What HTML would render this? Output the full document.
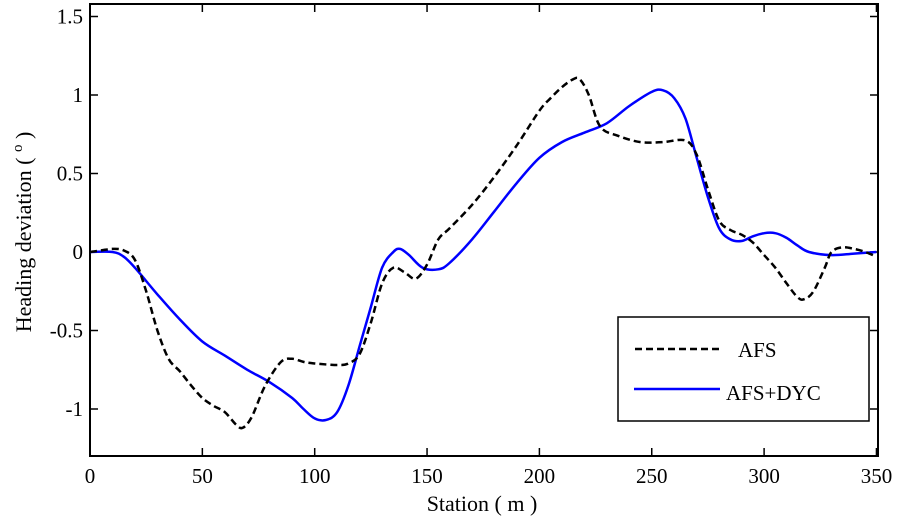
<!DOCTYPE html>
<html><head><meta charset="utf-8"><style>
body{margin:0;background:#fff}
svg{display:block;font-family:"Liberation Serif",serif}
</style></head><body>
<svg id="chart" width="898" height="520">
<rect x="90" y="4" width="788" height="452" fill="#fff" stroke="#000" stroke-width="2"/>
<g id="axes"></g>
<g id="series"></g>
<text x="482" y="511" font-size="22" text-anchor="middle">Station ( m )</text>
<text transform="translate(31,232) rotate(-90)" font-size="22" text-anchor="middle">Heading deviation ( <tspan dy="-9" font-size="15">o</tspan><tspan dy="9"> )</tspan></text>
<g>
<rect x="618" y="317" width="251" height="104" fill="#fff" stroke="#000" stroke-width="1.5"/>
<line x1="635" y1="349" x2="720" y2="349" stroke="#000" stroke-width="2.5" stroke-dasharray="7,4"/>
<text x="738" y="357" font-size="21">AFS</text>
<line x1="634" y1="389" x2="720" y2="389" stroke="#0000ff" stroke-width="2.5"/>
<text x="726" y="400" font-size="21">AFS+DYC</text>
</g>
</svg>
<script>
const xTicks=[0,50,100,150,200,250,300,350];
const yTicks=[-1,-0.5,0,0.5,1,1.5];
const yTickLabels=["-1","-0.5","0","0.5","1","1.5"];
const afsX=[0,5,10,15,20,25,30,35,40,45,50,55,60,65,68,72,78,85,90,95,100,110,115,120,125,130,135,140,145,150,155,160,170,180,190,200,205,210,215,218,222,227,235,245,255,265,270,275,280,285,290,295,300,305,310,315,318,322,327,330,335,340,345,350];
const afsY=[0,0.01,0.02,0.01,-0.05,-0.25,-0.5,-0.68,-0.76,-0.85,-0.93,-0.98,-1.02,-1.1,-1.12,-1.05,-0.85,-0.7,-0.68,-0.7,-0.71,-0.72,-0.71,-0.65,-0.45,-0.2,-0.1,-0.13,-0.17,-0.08,0.08,0.15,0.3,0.48,0.68,0.9,0.98,1.05,1.1,1.1,1.0,0.8,0.74,0.7,0.7,0.71,0.62,0.4,0.2,0.14,0.11,0.06,-0.02,-0.1,-0.2,-0.29,-0.3,-0.25,-0.1,0,0.03,0.02,0,-0.03];
const dycX=[0,10,15,20,30,40,50,60,70,80,90,95,100,105,110,115,120,125,130,135,138,142,148,155,160,170,180,190,200,210,220,230,240,250,255,260,265,270,275,280,285,290,295,300,305,310,315,320,330,340,350];
const dycY=[0,0,-0.03,-0.1,-0.27,-0.43,-0.57,-0.66,-0.75,-0.83,-0.93,-1,-1.06,-1.07,-1.02,-0.85,-0.6,-0.35,-0.1,0,0.02,-0.02,-0.1,-0.11,-0.07,0.08,0.26,0.44,0.6,0.7,0.76,0.82,0.93,1.02,1.03,0.98,0.85,0.6,0.35,0.15,0.08,0.07,0.1,0.12,0.12,0.09,0.04,0,-0.02,-0.01,0];
const xs=v=>90+v*2.247;
const ys=v=>252-v*157;
const NS="http://www.w3.org/2000/svg";
const axes=document.getElementById('axes');
function mk(tag,attrs,parent){const e=document.createElementNS(NS,tag);for(const k in attrs)e.setAttribute(k,attrs[k]);parent.appendChild(e);return e;}
xTicks.forEach(t=>{
 const l=mk('line',{x1:xs(t),x2:xs(t),y1:456,y2:448,stroke:'#000','stroke-width':1.5},axes);
 
 
 const l2=mk('line',{x1:xs(t),x2:xs(t),y1:4,y2:12,stroke:'#000','stroke-width':1.5},axes);
 
 
 const tx=mk('text',{x:xs(t),y:483,'font-size':21,'text-anchor':'middle'},axes);
 tx.textContent=t;
 
 
});
yTicks.forEach((t,i)=>{
 const l=mk('line',{x1:90,x2:98,y1:ys(t),y2:ys(t),stroke:'#000','stroke-width':1.5},axes);
 
 
 const l2=mk('line',{x1:878,x2:870,y1:ys(t),y2:ys(t),stroke:'#000','stroke-width':1.5},axes);
 
 
 const tx=mk('text',{x:83,y:ys(t)+7,'font-size':21,'text-anchor':'end'},axes);
 tx.textContent=yTickLabels[i];
 
 
});
const ser=document.getElementById('series');
function path(X,Y){
 const P=X.map((x,i)=>[xs(x),ys(Y[i])]);
 let d='M'+P[0][0].toFixed(1)+','+P[0][1].toFixed(1);
 for(let i=0;i<P.length-1;i++){
  const p0=P[i>0?i-1:i],p1=P[i],p2=P[i+1],p3=P[i+2<P.length?i+2:i+1];
  const c1x=p1[0]+(p2[0]-p0[0])/6,c1y=p1[1]+(p2[1]-p0[1])/6;
  const c2x=p2[0]-(p3[0]-p1[0])/6,c2y=p2[1]-(p3[1]-p1[1])/6;
  d+='C'+c1x.toFixed(1)+','+c1y.toFixed(1)+' '+c2x.toFixed(1)+','+c2y.toFixed(1)+' '+p2[0].toFixed(1)+','+p2[1].toFixed(1);
 }
 return d;
}
const p1=mk('path',{d:path(dycX,dycY),fill:'none',stroke:'#0000ff','stroke-width':2.5,'stroke-linejoin':'round'},ser);


const p2=mk('path',{d:path(afsX,afsY),fill:'none',stroke:'#000','stroke-width':2.5,'stroke-dasharray':'7,4','stroke-linejoin':'round'},ser);


</script>
</body></html>
